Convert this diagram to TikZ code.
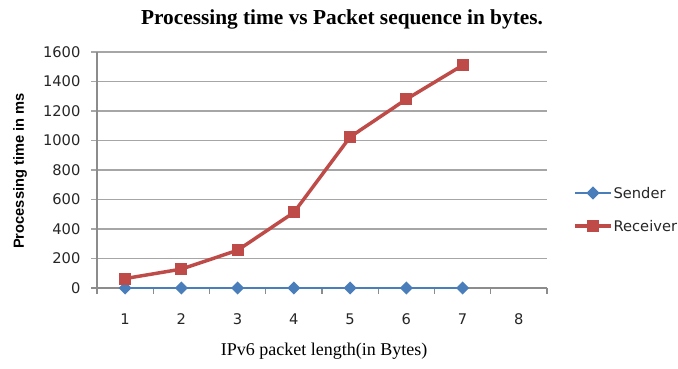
\documentclass[tikz,border=0pt]{standalone}
\usepackage{fontspec}
\setmainfont{Liberation Serif}
\setsansfont{DejaVu Sans}
\newfontfamily\arialfont{Liberation Sans}
\usetikzlibrary{positioning,shapes.geometric}
\definecolor{sendblue}{HTML}{4A7EBB}
\definecolor{recvred}{HTML}{BE4B48}
\definecolor{gridgray}{HTML}{A6A6A6}
\definecolor{axisgray}{HTML}{8C8C8C}

\begin{document}
\begin{tikzpicture}[x=0.75pt,y=-0.75pt,
  gridline/.style={draw=gridgray,line width=0.9pt},
  ticklab/.style={font=\sffamily\fontsize{11}{12}\selectfont,text=black!85,inner sep=1pt},
  sendmark/.style={diamond,fill=sendblue,inner sep=0pt,minimum width=10pt,minimum height=10pt},
  recvmark/.style={rectangle,fill=recvred,inner sep=0pt,minimum size=9pt}]
  \useasboundingbox (0,0) rectangle (678,368);
  \node[font=\bfseries\fontsize{16}{18}\selectfont] (title) at (342,19) {Processing time vs Packet sequence in bytes.};
  \foreach \k in {1,...,8}
     \draw[gridline] (91,288-29.5*\k) -- (547,288-29.5*\k);
  \foreach \k in {0,...,8}{
     \pgfmathtruncatemacro{\v}{200*\k}
     \node[ticklab,anchor=east] (yl\k) at (82,288-29.5*\k) {\v};
  }
  \draw[axisgray,line width=0.9pt] (97,52) -- (97,288);
  \draw[axisgray,line width=0.9pt] (91,288) -- (547,288);
  \foreach \i in {0,...,8}
     \draw[axisgray,line width=0.9pt] (97+56.25*\i,288) -- (97+56.25*\i,294);
  \foreach \i in {1,...,8}
     \node[ticklab] (xl\i) at (97+56.25*\i-28.125,319) {\i};
  \node[font=\fontsize{13.5}{15}\selectfont] (xlab) at (324,351) {IPv6 packet length(in Bytes)};
  \node[rotate=90,font=\arialfont\bfseries\fontsize{11}{12}\selectfont] (ylab) at (20,171) {Processing time in ms};
  \foreach \i/\v in {1/64,2/128,3/256,4/512,5/1024,6/1280,7/1510}{
     \coordinate (s\i) at (97+56.25*\i-28.125,288);
     \coordinate (r\i) at (97+56.25*\i-28.125,288-0.1475*\v);
  }
  \draw[sendblue,line width=1.6pt] (s1) -- (s2) -- (s3) -- (s4) -- (s5) -- (s6) -- (s7);
  \draw[recvred,line width=2.6pt,line join=round] (r1) -- (r2) -- (r3) -- (r4) -- (r5) -- (r6) -- (r7);
  \foreach \i in {1,...,7}{
     \node[sendmark] at (s\i) {};
     \node[recvmark] at (r\i) {};
  }
  \coordinate (sa) at (575,193);
  \coordinate (sb) at (611,193);
  \draw[sendblue,line width=1.6pt] (sa) -- (sb);
  \node[sendmark] (sm) at (593,193) {};
  \node[ticklab,anchor=west] (sender) at (612,193) {Sender};
  \coordinate (ra) at (575,226);
  \coordinate (rb) at (611,226);
  \draw[recvred,line width=2.6pt] (ra) -- (rb);
  \node[recvmark] (rm) at (593,226) {};
  \node[ticklab,anchor=west] (receiver) at (612,226) {Receiver};
\end{tikzpicture}
\end{document}
